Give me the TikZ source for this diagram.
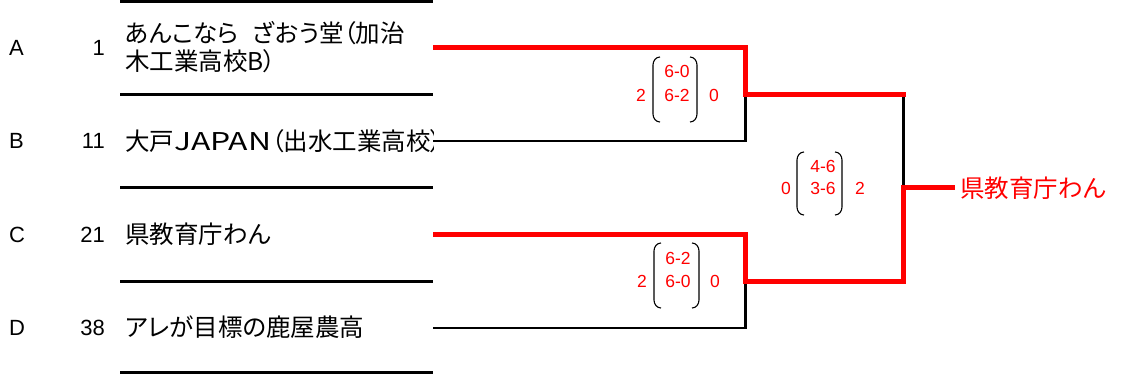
\documentclass[tikz,border=0pt]{standalone}
\usepackage{fontspec}
\setmainfont{Noto Sans CJK JP}
\newfontfamily\jp[RawFeature=+palt]{Noto Sans CJK JP}
\newfontfamily\lat{Liberation Sans}
\definecolor{wred}{RGB}{255,0,0}
\tikzset{
  rule/.style={line width=3pt, black},
  lose/.style={line width=2.4pt, black},
  win/.style={line width=5pt, wred},
  team/.style={anchor=west, inner sep=0pt, font=\jp\fontsize{24.5}{28}\selectfont, align=left},
  lbl/.style={anchor=west, inner sep=0pt, font=\lat\fontsize{22}{24}\selectfont},
  seed/.style={anchor=east, inner sep=0pt, font=\lat\fontsize{22}{24}\selectfont},
  score/.style={inner sep=0pt, text=wred, font=\lat\fontsize{17.5}{19}\selectfont},
  paren/.style={line width=1.1pt, black},
}
\begin{document}
\begin{tikzpicture}[x=1pt,y=-1pt]
\useasboundingbox (0,0) rectangle (1122,374);
% rule lines
\foreach \y/\n in {1.5/r0,94.5/r1,188/r2,281/r3,372.5/r4}{
  \coordinate (\n l) at (120,\y);
  \coordinate (\n r) at (433,\y);
  \draw[rule] (\n l) -- (\n r);
}
% labels and seeds
\node[lbl] (lA) at (9,47.5) {A};
\node[lbl] (lB) at (9,141) {B};
\node[lbl] (lC) at (9,234.5) {C};
\node[lbl] (lD) at (9,328) {D};
\node[seed] (sA) at (105,47.5) {1};
\node[seed] (sB) at (105,141) {11};
\node[seed] (sC) at (105,234.5) {21};
\node[seed] (sD) at (105,328) {38};
% team names
\node[team] (nA) at (125,47) {あんこなら\hspace{14pt}ざおう堂（加治\\木工業高校B）};
\begin{scope}
  \clip (118,100) rectangle (433,180);
  \node[team] (nB) at (125,141) {大戸\scalebox{1.3}[1]{JAPAN}（出水工業高校）};
\end{scope}
\node[team] (nC) at (125,234.5) {県教育庁わん};
\node[team] (nD) at (125,327.5) {アレが目標の鹿屋農高};
% bracket coordinates
\coordinate (tA) at (433,47.5);
\coordinate (tB) at (433,141);
\coordinate (tC) at (433,234.5);
\coordinate (tD) at (433,328);
\coordinate (j1) at (745.5,94.5);
\coordinate (j2) at (745.5,281);
\coordinate (k1) at (903.5,94.5);
\coordinate (k1e) at (905.5,94.5);
\coordinate (k2) at (903.5,281);
\coordinate (k2e) at (905.5,281);
\coordinate (w) at (955,188);
% losers
\draw[lose] (tB) -| (j1);
\draw[lose] (tD) -| (j2);
\draw[lose] (k1) |- (w);
% winners
\draw[win] (tA) -| (j1) -- (k1e);
\draw[win] (tC) -| (j2) -- (k2e);
\draw[win] (k2) |- (w);
\node[team, text=wred] (champ) at (960,188) {県教育庁わん};
% scores match 1
\node[score] (m1a) at (677,71) {6-0};
\node[score] (m1b) at (677,95) {6-2};
\node[score] (m1l) at (641,95) {2};
\node[score] (m1r) at (714,95) {0};
\draw[paren] (660,57) to[out=180,in=90] (653,65) -- (653,114) to[out=-90,in=180] (660,122);
\draw[paren] (690,57) to[out=0,in=90] (697,65) -- (697,114) to[out=-90,in=0] (690,122);
% scores match 2
\node[score] (m2a) at (678,258) {6-2};
\node[score] (m2b) at (678,281) {6-0};
\node[score] (m2l) at (642,281) {2};
\node[score] (m2r) at (715,281) {0};
\draw[paren] (661,243) to[out=180,in=90] (654,251) -- (654,300) to[out=-90,in=180] (661,308);
\draw[paren] (692,243) to[out=0,in=90] (699,251) -- (699,300) to[out=-90,in=0] (692,308);
% scores match 3
\node[score] (m3a) at (823,166) {4-6};
\node[score] (m3b) at (823,188) {3-6};
\node[score] (m3l) at (786,188) {0};
\node[score] (m3r) at (860,188) {2};
\draw[paren] (804,152) to[out=180,in=90] (797,160) -- (797,207) to[out=-90,in=180] (804,215);
\draw[paren] (835,152) to[out=0,in=90] (842,160) -- (842,207) to[out=-90,in=0] (835,215);
\end{tikzpicture}
\end{document}
